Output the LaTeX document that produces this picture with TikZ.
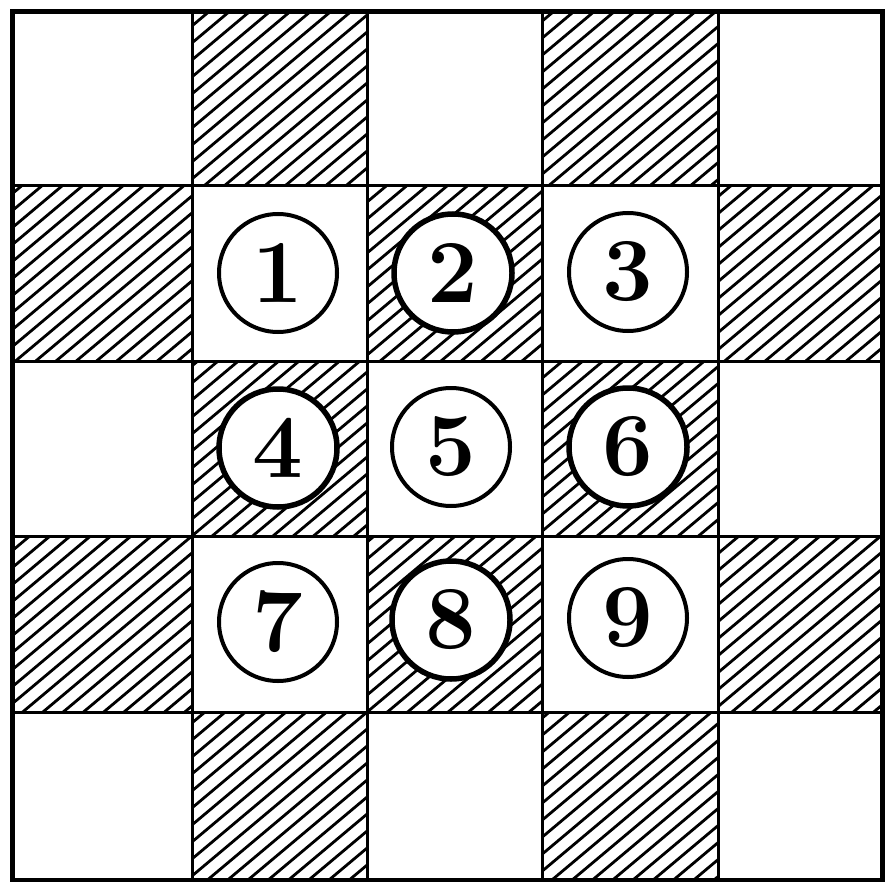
\documentclass[tikz,border=0pt]{standalone}
\tikzset{
  gridline/.style={line width=3pt},
  outerline/.style={line width=5pt, line join=miter},
  hatchline/.style={line width=2.8pt},
  counter/.style={circle, draw, fill=white, line width=4pt, minimum size=118pt, inner sep=0pt,
    font=\fontsize{90}{90}\selectfont\bfseries},
  darkcounter/.style={counter, line width=5.5pt},
}
\begin{document}
\begin{tikzpicture}[x=1pt,y=-1pt]
\useasboundingbox (0,0) rectangle (885,882);
\fill[white] (0,0) rectangle (885,882);
% hatched squares
\begin{scope}
\clip (192,12) rectangle (367,186)
      (542,12) rectangle (718,186)
      (12,186) rectangle (192,361)
      (367,186) rectangle (542,361)
      (718,186) rectangle (882,361)
      (192,361) rectangle (367,536)
      (542,361) rectangle (718,536)
      (12,536) rectangle (192,712)
      (367,536) rectangle (542,712)
      (718,536) rectangle (882,712)
      (192,712) rectangle (367,880)
      (542,712) rectangle (718,880);
\foreach \c in {0,17,...,1660} \draw[hatchline] (0,\c) -- (885,\c-742.5);
\end{scope}
% grid lines
\foreach \x in {192,367,542,718} \draw[gridline] (\x,12) -- (\x,880);
\foreach \y in {186,361,536,712} \draw[gridline] (12,\y) -- (882,\y);
\draw[outerline] (12,12) rectangle (882,880);
% counters
\node[counter] (n1) at (278,273) {1};
\node[darkcounter] (n2) at (453,273) {2};
\node[counter] (n3) at (628,272) {3};
\node[darkcounter] (n4) at (278,448) {4};
\node[counter] (n5) at (451,447) {5};
\node[darkcounter] (n6) at (628,447) {6};
\node[counter] (n7) at (278,622) {7};
\node[darkcounter] (n8) at (451,620) {8};
\node[counter] (n9) at (628,618) {9};
\end{tikzpicture}
\end{document}
